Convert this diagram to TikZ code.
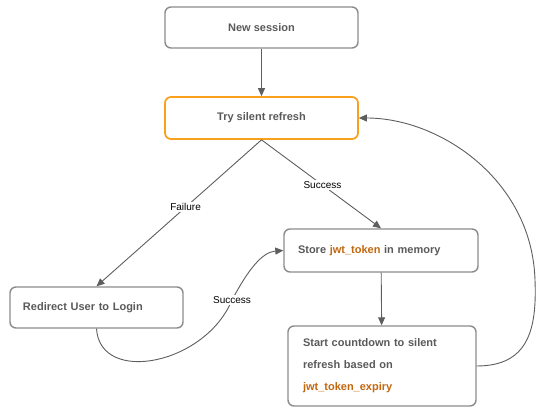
\documentclass[tikz,border=0pt]{standalone}
\usepackage{fontspec}
\setmainfont{Liberation Sans}
\usetikzlibrary{arrows.meta}
\definecolor{boxgray}{HTML}{8C8C8C}
\definecolor{txtgray}{HTML}{5A5A5A}
\definecolor{lineg}{HTML}{5E5E5E}
\definecolor{orng}{HTML}{F9A11B}
\definecolor{otxt}{HTML}{C4670F}
\tikzset{
  box/.style={draw=boxgray, line width=1.4pt, rounded corners=6pt, fill=white,
    font=\fontsize{11}{22}\selectfont\bfseries, text=txtgray, inner sep=0pt},
  conn/.style={draw=lineg, line width=0.9pt, -{Triangle[length=8pt,width=7pt]}},
  lbl/.style={fill=white, font=\fontsize{10}{12}\selectfont, text=black, inner sep=1.5pt}
}
\newcommand{\hl}[1]{\textcolor{otxt}{#1}}
\begin{document}
\begin{tikzpicture}[x=1pt,y=-1pt]
\useasboundingbox (0,0) rectangle (539,409);
\node[box, minimum width=193pt, minimum height=41pt] (new) at (261.5,27.5) {New session};
\node[box, draw=orng, line width=1.7pt, minimum width=193pt, minimum height=42pt] (try) at (261.5,118) {Try silent refresh};
\node[box, minimum width=194pt, minimum height=43pt, text width=166pt, align=left] (store) at (381,250.5) {Store \hl{jwt\_token} in memory};
\node[box, minimum width=173pt, minimum height=41pt, text width=147pt, align=left] (redir) at (96.5,307.5) {Redirect User to Login};
\node[box, minimum width=188pt, minimum height=80pt, text width=158pt, align=left] (count) at (382,366) {Start countdown to silent\\refresh based on\\\hl{jwt\_token\_expiry}};

\draw[conn] (new) -- (try);
\draw[conn] (try.south) -- node[lbl, pos=0.46] {Failure} (redir.north);
\draw[conn] (try.south) -- node[lbl, pos=0.51] {Success} (store.north);
\draw[conn] (store) -- (count);
\coordinate (m1) at (232,300);
\draw[conn] (redir.south) .. controls (100,385) and (205,365) .. (m1)
   .. controls (248,270) and (262,252) .. (store.west);
\node[lbl] at (m1) {Success};
\coordinate (m2) at (535,280);
\draw[conn] (count.east) .. controls (528,366) and (537,330) .. (m2)
   .. controls (532,180) and (440,118) .. (try.east);
\end{tikzpicture}
\end{document}
